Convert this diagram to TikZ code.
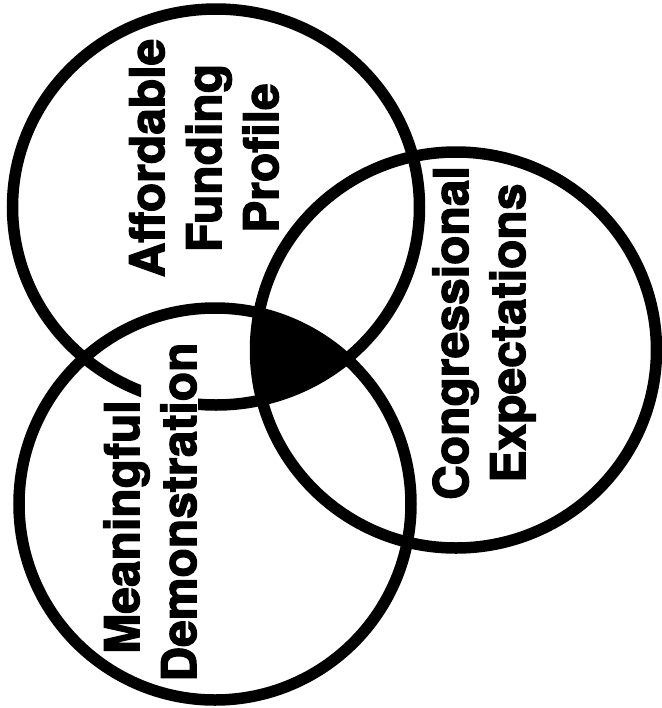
\documentclass[tikz,border=0pt]{standalone}
\usepackage{fontspec}
\setmainfont{TeX Gyre Heros}[BoldFeatures={FakeBold=2.5}]
\begin{document}
\begin{tikzpicture}[x=0.5pt,y=-0.5pt,
  ring/.style={line width=5.75pt},
  vtext/.style={rotate=90,align=center,inner sep=0pt,
    font=\fontsize{24}{28.5}\selectfont\bfseries}]
\useasboundingbox (0,0) rectangle (662,708);
\coordinate (cA) at (216,207);
\coordinate (cM) at (215,504);
\coordinate (cC) at (456,350);
% common region of all three
\begin{scope}
  \clip (cA) ellipse [x radius=203.5, y radius=198];
  \clip (cM) circle [radius=196];
  \fill (cC) ellipse [x radius=200.5, y radius=198];
\end{scope}
% upper circle, hidden behind the lower label
\begin{scope}[even odd rule]
  \clip (0,0) rectangle (662,708) (141,378) rectangle (198,420);
  \draw[ring] (cA) ellipse [x radius=203.5, y radius=198];
\end{scope}
\draw[ring] (cM) circle [radius=196];
\draw[ring] (cC) ellipse [x radius=200.5, y radius=198];
\node[vtext] (af) at (204,158) {Affordable\\Funding\\Profile};
\node[vtext] (md) at (150,512) {Meaningful\hspace*{15pt}\\Demonstration};
\node[vtext] (ce) at (484,333) {Congressional\\Expectations};
\end{tikzpicture}
\end{document}
